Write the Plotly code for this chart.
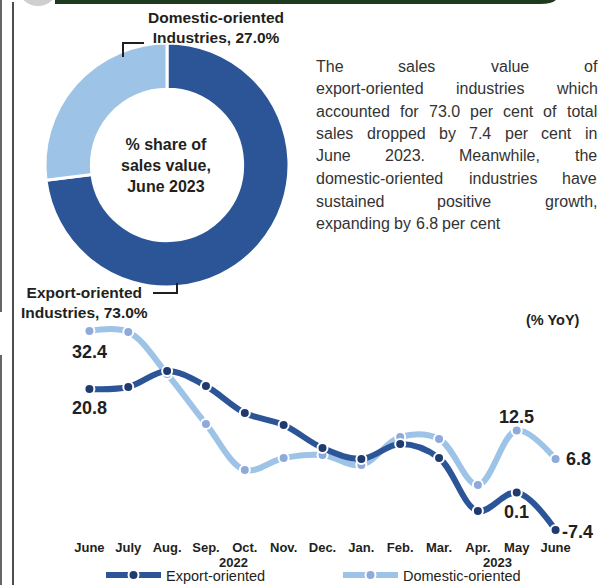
import plotly.graph_objects as go

# donut data
share_labels = ["Export-oriented Industries", "Domestic-oriented Industries"]
share_values = [73.0, 27.0]

# YoY series, June 2022 .. June 2023
months = ["June", "July", "Aug.", "Sep.", "Oct.", "Nov.", "Dec.", "Jan.", "Feb.", "Mar.", "Apr.", "May", "June"]
export_yoy = [20.8, 21.2, 24.4, 21.4, 16.0, 13.6, 9.0, 6.8, 9.8, 7.0, -3.6, 0.1, -7.4]
domestic_yoy = [32.4, 32.2, 23.8, 13.8, 4.6, 7.0, 7.6, 5.6, 11.2, 10.8, 1.6, 12.5, 6.8]

para_lines = [
    "The sales value of",
    "export-oriented industries which",
    "accounted for 73.0 per cent of total",
    "sales dropped by 7.4 per cent in",
    "June 2023. Meanwhile, the",
    "domestic-oriented industries have",
    "sustained positive growth,",
    "expanding by 6.8 per cent",
]

DARK = "#2B5597"
DARK_MK = "#1F3A6E"
LIGHT = "#9DC3E6"
LIGHT_MK = "#8EAADB"
TXT = "#231F20"
FONT = "Liberation Sans, Arial, sans-serif"

W, H = 600, 585

# Arial / Liberation Sans advance widths (per 1000 em) for justification
ARIAL = dict(zip("abcdefghijklmnopqrstuvwxyz",
                 [556, 556, 500, 556, 556, 278, 556, 556, 222, 222, 500, 222, 833,
                  556, 556, 556, 556, 333, 500, 278, 556, 500, 722, 500, 500, 500]))
ARIAL.update({d: 556 for d in "0123456789"})
ARIAL.update({".": 278, ",": 278, "-": 333, " ": 278, "T": 611, "J": 500, "M": 833})


def text_w(s, size):
    return sum(ARIAL.get(c, 556) for c in s) * size / 1000


def px(x):
    return x / W


def py(y):
    return 1 - y / H


fig = go.Figure()

# ---- donut ----
fig.add_trace(go.Pie(
    labels=share_labels, values=share_values, hole=0.62, sort=False,
    direction="clockwise", rotation=0, textinfo="none", hoverinfo="label+value",
    marker=dict(colors=[DARK, LIGHT], line=dict(color="white", width=3)),
    domain=dict(x=[px(45), px(289)], y=[py(287), py(43)]),
    showlegend=False,
))

# ---- line chart ----
xs = list(range(len(months)))
fig.add_trace(go.Scatter(
    x=xs, y=domestic_yoy, name="Domestic-oriented", mode="lines+markers",
    line=dict(color=LIGHT, width=6, shape="spline", smoothing=1.0),
    marker=dict(color=LIGHT_MK, size=10, line=dict(color="white", width=2)),
))
fig.add_trace(go.Scatter(
    x=xs, y=export_yoy, name="Export-oriented", mode="lines+markers",
    line=dict(color=DARK, width=6, shape="spline", smoothing=1.0),
    marker=dict(color=DARK_MK, size=10, line=dict(color="white", width=2)),
))

y_min, y_max = -9, 34
y_dom = [py(538), py(323)]
zero_pos = y_dom[0] + (y_dom[1] - y_dom[0]) * (0 - y_min) / (y_max - y_min)

annotations = []


def dlabel(i, series, xanchor="center", xshift=0, yshift=0):
    annotations.append(dict(
        x=i, y=series[i], xref="x", yref="y", text=f"{series[i]:.1f}", showarrow=False,
        xanchor=xanchor, xshift=xshift, yshift=yshift,
        font=dict(size=18, color=TXT, family=FONT, weight="bold"),
    ))


dlabel(0, domestic_yoy, yshift=-21)
dlabel(0, export_yoy, yshift=-19)
dlabel(11, domestic_yoy, yshift=14)
dlabel(12, domestic_yoy, xanchor="left", xshift=8)
dlabel(11, export_yoy, yshift=-19)
dlabel(12, export_yoy, xanchor="left", xshift=4, yshift=-2)

# year labels
for xv, yr in [(3.7, "2022"), (10.5, "2023")]:
    annotations.append(dict(
        x=xv, y=py(562), xref="x", yref="paper", text=yr, showarrow=False,
        xanchor="center", yanchor="middle",
        font=dict(size=13, color=TXT, family=FONT, weight="bold"),
    ))

annotations.append(dict(
    x=px(553), y=py(320), xref="paper", yref="paper", text="(% YoY)", showarrow=False,
    xanchor="center", yanchor="middle",
    font=dict(size=14.5, color=TXT, family=FONT, weight="bold"),
))

# donut labels
lbl = dict(size=15.5, color=TXT, family=FONT, weight="bold")
annotations.append(dict(
    x=px(216), y=py(27), xref="paper", yref="paper", showarrow=False, xanchor="center",
    yanchor="middle", text="Domestic-oriented<br>Industries, 27.0%", font=lbl, align="center",
))
annotations.append(dict(
    x=px(84), y=py(302), xref="paper", yref="paper", showarrow=False, xanchor="center",
    yanchor="middle", text="Export-oriented<br>Industries, 73.0%", font=lbl, align="center",
))
annotations.append(dict(
    x=px(166), y=py(165), xref="paper", yref="paper", showarrow=False, xanchor="center",
    yanchor="middle", text="% share of<br>sales value,<br>June 2023",
    font=dict(size=16, color=TXT, family=FONT, weight="bold"), align="center",
))

# justified paragraph, word by word
P_SIZE = 16
p_left, p_right = 316, 597
p_top, p_step = 66, 22.5
for li, line in enumerate(para_lines):
    words = line.split(" ")
    yy = p_top + li * p_step
    last = li == len(para_lines) - 1
    if last or len(words) == 1:
        gap = text_w(" ", P_SIZE)
    else:
        gap = (p_right - p_left - sum(text_w(w, P_SIZE) for w in words)) / (len(words) - 1)
    xx = p_left
    for w in words:
        annotations.append(dict(
            x=px(xx), y=py(yy), xref="paper", yref="paper", text=w, showarrow=False,
            xanchor="left", yanchor="middle", borderpad=0, borderwidth=0,
            font=dict(size=P_SIZE, color="#333333", family=FONT),
        ))
        xx += text_w(w, P_SIZE) + gap

shapes = [
    # callout lines
    dict(type="path", xref="paper", yref="paper", line=dict(color=TXT, width=2),
         path=f"M {px(123)},{py(57)} L {px(123)},{py(43)} L {px(144)},{py(43)}"),
    dict(type="path", xref="paper", yref="paper", line=dict(color=TXT, width=2),
         path=f"M {px(153)},{py(293)} L {px(177)},{py(293)} L {px(177)},{py(283)}"),
    # frame lines on the left
    dict(type="line", xref="paper", yref="paper", x0=px(13), x1=px(13), y0=0, y1=py(2),
         line=dict(color="#4d4d4d", width=2)),
    dict(type="line", xref="paper", yref="paper", x0=px(1), x1=px(1), y0=py(0), y1=py(312),
         line=dict(color="#666666", width=2)),
    dict(type="line", xref="paper", yref="paper", x0=px(1), x1=px(1), y0=py(355), y1=0,
         line=dict(color="#666666", width=2)),
    # top banner
    dict(type="path", xref="paper", yref="paper", fillcolor="#1E3A1E", line=dict(width=0),
         path=f"M {px(55)},{py(0)} L {px(556)},{py(0)} Q {px(552)},{py(4)} {px(540)},{py(4)} L {px(55)},{py(4)} Z"),
    dict(type="circle", xref="paper", yref="paper", fillcolor="#cfcfcf", line=dict(width=0),
         x0=px(18), x1=px(58), y0=py(6), y1=py(-34)),
]

fig.update_layout(
    width=W, height=H,
    margin=dict(l=0, r=0, t=0, b=0, autoexpand=False),
    paper_bgcolor="white", plot_bgcolor="white",
    font=dict(family=FONT, color=TXT),
    xaxis=dict(domain=[px(70), px(575)], range=[-0.5, 12.5], tickmode="array",
               tickvals=xs, ticktext=months, showgrid=False, zeroline=False, showline=False,
               ticks="", automargin=False,
               tickfont=dict(size=13, color=TXT, family=FONT, weight="bold")),
    xaxis2=dict(overlaying="x", anchor="free", position=zero_pos, side="bottom",
                range=[-0.5, 12.5], tickmode="linear", tick0=-0.5, dtick=1,
                showticklabels=False, showgrid=False, zeroline=False, automargin=False,
                showline=True, linecolor=TXT, linewidth=2,
                ticks="outside", ticklen=5, tickwidth=2, tickcolor=TXT),
    yaxis=dict(domain=y_dom, range=[y_min, y_max], visible=False, automargin=False),
    legend=dict(orientation="h", xref="container", yref="container",
                x=px(101), xanchor="left", y=py(575), yanchor="middle",
                font=dict(size=14.5, color=TXT, family=FONT), entrywidth=167,
                itemwidth=55, traceorder="reversed", bgcolor="rgba(0,0,0,0)"),
    annotations=annotations,
    shapes=shapes,
)

fig.write_html("out.html", config={"displayModeBar": False},
               post_script="document.body.style.margin='0px';document.body.style.overflow='hidden';")
